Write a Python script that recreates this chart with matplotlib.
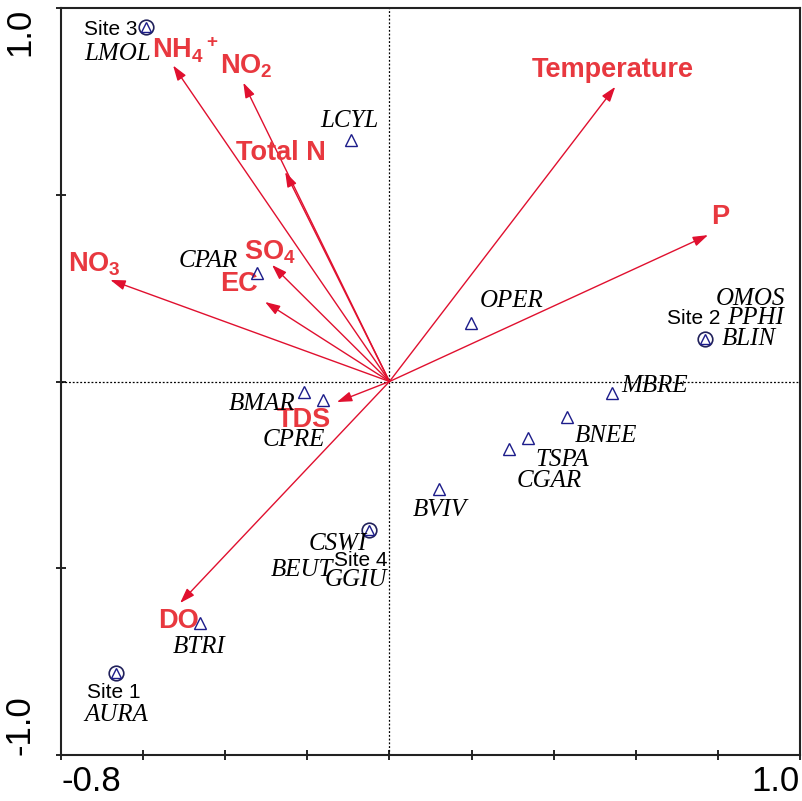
import numpy as np
import matplotlib
matplotlib.use('Agg')
import matplotlib.pyplot as plt

plt.rcParams['font.family'] = ['Liberation Sans', 'DejaVu Sans']
plt.rcParams['mathtext.fontset'] = 'custom'
plt.rcParams['mathtext.rm'] = 'Liberation Sans:bold'
plt.rcParams['mathtext.bf'] = 'Liberation Sans:bold'
plt.rcParams['mathtext.it'] = 'Liberation Sans:bold'

# environmental variables (arrow tips)
env_names = [r'NH$_4$$^+$', r'NO$_2$', 'Total N', 'Temperature', 'P',
             r'NO$_3$', r'SO$_4$', 'EC', 'TDS', 'DO']
env_x = [-0.527, -0.356, -0.254, 0.550, 0.776, -0.680, -0.286, -0.303, -0.128, -0.510]
env_y = [0.846, 0.800, 0.561, 0.789, 0.392, 0.272, 0.312, 0.213, -0.055, -0.593]

# species scores (triangles)
sp_names = ['LCYL', 'CPAR', 'OPER', 'MBRE', 'BNEE', 'TSPA', 'CGAR',
            'BVIV', 'BMAR', 'CPRE', 'BTRI']
sp_x = [-0.093, -0.322, 0.199, 0.542, 0.432, 0.338, 0.290, 0.121, -0.208, -0.161, -0.461]
sp_y = [0.646, 0.290, 0.156, -0.031, -0.095, -0.151, -0.181, -0.288, -0.028, -0.050, -0.647]

# sites (circles), each with species sitting on the same point
site_names = ['Site 1', 'Site 2', 'Site 3', 'Site 4']
site_x = [-0.666, 0.768, -0.592, -0.050]
site_y = [-0.780, 0.114, 0.949, -0.398]
site_species = [['AURA'], ['OMOS', 'PPHI', 'BLIN'], ['LMOL'], ['CSWI', 'BEUT', 'GGIU']]

# label placement (offset points, alignment)
env_off = [(9, 11), (2, 12), (-3, 14), (-1.5, 12), (9, 13),
           (-11.5, 11), (-1.5, 9), (-19, 13), (-24, -13), (-1.5, -13)]
sp_off = [((-1, 14), 'center'), ((-14, 9), 'right'), ((6.5, 16), 'left'),
          ((7, 5), 'left'), ((6, -14), 'left'), ((5, -16), 'left'),
          ((6, -23), 'left'), ((0.5, -15), 'center'), ((-6.5, -9), 'right'),
          ((1.5, -29), 'right'), ((-1, -17), 'center')]
site_off = [((-2, -14), 'center'), ((11.5, 14.5), 'right'),
            ((-6.5, -2), 'right'), ((-6, -21.5), 'center')]
site_sp_off = [[((0, -30), 'center')],
               [((8, 29), 'left'), ((16, 15), 'left'), ((12, 0), 'left')],
               [((3, -19.5), 'right')],
               [((-1.5, -10), 'right'), ((-26, -29), 'right'), ((13, -36), 'right')]]

red_arrow = '#e0102f'
red_text = '#e8383f'
navy = '#1c1c8a'

fig = plt.figure(figsize=(8.02, 8.01), dpi=100)
ax = fig.add_axes([0.0761, 0.0574, 0.9214, 0.9326])
ax.set_xlim(-0.8, 1.0)
ax.set_ylim(-1.0, 1.0)

ax.axhline(0, color='black', lw=0.9, ls=(0, (1.5, 1.5)), zorder=1)
ax.axvline(0, color='black', lw=0.9, ls=(0, (1.5, 1.5)), zorder=1)

for name, x, y, off in zip(env_names, env_x, env_y, env_off):
    ax.annotate('', xy=(x, y), xytext=(0, 0),
                arrowprops=dict(arrowstyle='-|>,head_length=0.9,head_width=0.3',
                                color=red_arrow, lw=1.0, shrinkA=0, shrinkB=0,
                                mutation_scale=10), zorder=3)
    ax.annotate(name, xy=(x, y), xytext=off, textcoords='offset points',
                ha='center', va='center', color=red_text, fontsize=19.5,
                fontweight='bold', zorder=4)

ax.plot(sp_x, sp_y, ls='none', marker='^', ms=8, mfc='none', mec=navy, mew=1.0, zorder=5)
for name, x, y, (off, ha) in zip(sp_names, sp_x, sp_y, sp_off):
    ax.annotate(name, xy=(x, y), xytext=off, textcoords='offset points',
                ha=ha, va='center', fontsize=18, style='italic',
                family='Liberation Serif', color='black', zorder=6)

ax.plot(site_x, site_y, ls='none', marker='o', ms=10.5, mfc='none', mec='#20205a', mew=1.2, zorder=5)
ax.plot(site_x, site_y, ls='none', marker='^', ms=7, mfc='none', mec=navy, mew=1.0, zorder=5)
for name, x, y, (off, ha), spn, spo in zip(site_names, site_x, site_y, site_off,
                                            site_species, site_sp_off):
    ax.annotate(name, xy=(x, y), xytext=off, textcoords='offset points',
                ha=ha, va='center', fontsize=15, color='black', zorder=6)
    for s, (o, h) in zip(spn, spo):
        ax.annotate(s, xy=(x, y), xytext=o, textcoords='offset points',
                    ha=h, va='center', fontsize=18, style='italic',
                    family='Liberation Serif', color='black', zorder=6)

xt = np.round(np.arange(-0.8, 1.01, 0.2), 1)
ax.set_xticks(xt)
ax.set_xticklabels(['-0.8'] + [''] * (len(xt) - 2) + ['1.0'], fontsize=25)
xl = ax.get_xticklabels()
xl[0].set_ha('left')
xl[-1].set_ha('right')

yt = [-1.0, -0.5, 0.0, 0.5, 1.0]
ax.set_yticks(yt)
ax.set_yticklabels(['-1.0', '', '', '', '1.0'], fontsize=25, rotation=90)
yl = ax.get_yticklabels()
yl[0].set_va('bottom')
yl[-1].set_va('top')

ax.tick_params(axis='both', direction='inout', length=7, width=1.2, color='black')
ax.tick_params(axis='x', pad=4)
ax.tick_params(axis='y', pad=14)
for sp in ax.spines.values():
    sp.set_linewidth(1.5)
    sp.set_color('#222222')

fig.savefig('out.png', dpi=100)
